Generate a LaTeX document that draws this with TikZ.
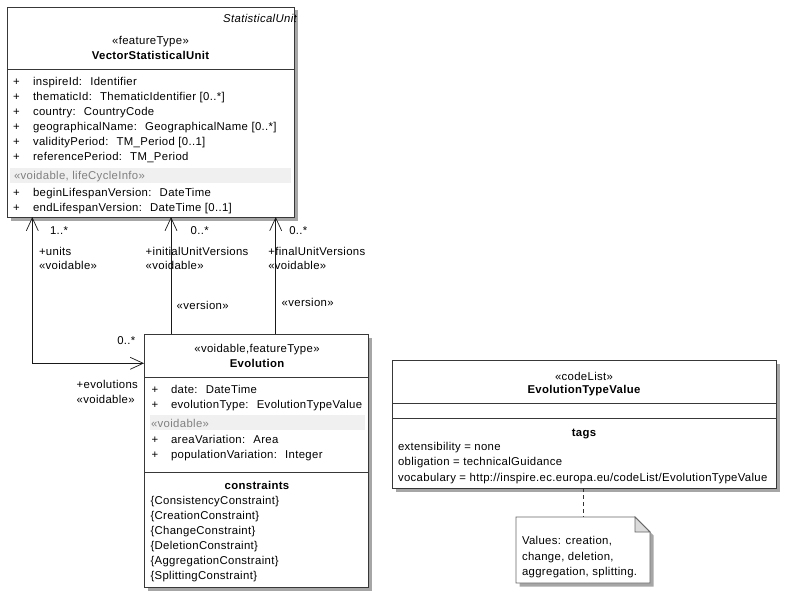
\documentclass[tikz,border=0pt]{standalone}
\usepackage{fontspec}
\setmainfont[LetterSpace=3]{Liberation Sans}
\usetikzlibrary{arrows.meta,shadows,calc}
\tikzset{
  umlbox/.style={draw=black!78, line width=0.8bp, fill=white, inner sep=0pt, outer sep=0pt, anchor=north west,
    drop shadow={shadow xshift=3.5bp, shadow yshift=-3.5bp, fill=black!35, opacity=1}},
  sepline/.style={draw=black!78, line width=0.8bp},
  band/.style={fill=black!6, draw=none},
  txt/.style={inner sep=0pt, outer sep=0pt, anchor=base west},
  ctxt/.style={inner sep=0pt, outer sep=0pt, anchor=base},
  graytxt/.style={txt, text=black!50},
  barb/.tip={Straight Barb[length=13bp,width=12bp,line width=0.7bp]},
  assoc/.style={draw=black!90, line width=0.7bp},
  notedash/.style={draw=black!80, line width=0.7bp, dash pattern=on 4bp off 3bp}
}
\begin{document}
\begin{tikzpicture}[x=1bp,y=-1bp,font=\fontsize{11.4}{14}\selectfont]
\useasboundingbox[fill=white] (0,0) rectangle (797,599);

% ---------- VectorStatisticalUnit ----------
\node[umlbox, minimum width=287bp, minimum height=210bp] (vsu) at (7,7) {};
\draw[sepline] ($(vsu.north west)+(0,62.5)$) -- ($(vsu.north east)+(0,62.5)$);
\fill[band] (10,168) rectangle (291,183);
\node[inner sep=0pt, anchor=base east, font=\fontsize{11.4}{14}\selectfont\itshape] (vsupkg) at (297,23) {StatisticalUnit};
\node[ctxt] (vsust) at (150.5,45) {«featureType»};
\node[ctxt, font=\fontsize{11.4}{14}\selectfont\bfseries] (vsuname) at (150.5,59.5) {VectorStatisticalUnit};
\foreach \yy/\tt [count=\i] in {86/{inspireId: \ Identifier},
  101/{thematicId: \ ThematicIdentifier [0..*]},
  116/{country: \ CountryCode},
  131/{geographicalName: \ GeographicalName [0..*]},
  146/{validityPeriod: \ TM\_Period [0..1]},
  161/{referencePeriod: \ TM\_Period},
  196.5/{beginLifespanVersion: \ DateTime},
  211.5/{endLifespanVersion: \ DateTime [0..1]}}{
  \node[txt] (vsup\i) at (13,\yy) {+};
  \node[txt] (vsua\i) at (33,\yy) {\tt};
}
\node[graytxt] (vsuband) at (14,180) {«voidable, lifeCycleInfo»};

% ---------- Evolution ----------
\node[umlbox, minimum width=224bp, minimum height=253bp] (evo) at (144,334) {};
\draw[sepline] ($(evo.north west)+(0,43)$) -- ($(evo.north east)+(0,43)$);
\draw[sepline] ($(evo.north west)+(0,138)$) -- ($(evo.north east)+(0,138)$);
\fill[band] (150,415) rectangle (365,430);
\node[ctxt] (evost) at (257,352) {«voidable,featureType»};
\node[ctxt, font=\fontsize{11.4}{14}\selectfont\bfseries] (evoname) at (257,367) {Evolution};
\foreach \yy/\tt [count=\i] in {393/{date: \ DateTime},
  408/{evolutionType: \ EvolutionTypeValue},
  443/{areaVariation: \ Area},
  458/{populationVariation: \ Integer}}{
  \node[txt] (evop\i) at (151.5,\yy) {+};
  \node[txt] (evoa\i) at (171,\yy) {\tt};
}
\node[graytxt] (evoband) at (151,427.5) {«voidable»};
\node[ctxt, font=\fontsize{11.4}{14}\selectfont\bfseries] (evocons) at (257,489) {constraints};
\foreach \yy/\tt [count=\i] in {504/{\{ConsistencyConstraint\}},
  519/{\{CreationConstraint\}},
  534/{\{ChangeConstraint\}},
  549/{\{DeletionConstraint\}},
  564/{\{AggregationConstraint\}},
  579/{\{SplittingConstraint\}}}{
  \node[txt] (evoc\i) at (150.5,\yy) {\tt};
}

% ---------- EvolutionTypeValue ----------
\node[umlbox, minimum width=384bp, minimum height=128bp] (etv) at (392,360) {};
\draw[sepline] ($(etv.north west)+(0,43)$) -- ($(etv.north east)+(0,43)$);
\draw[sepline] ($(etv.north west)+(0,58)$) -- ($(etv.north east)+(0,58)$);
\node[ctxt] (etvst) at (584,380) {«codeList»};
\node[ctxt, font=\fontsize{11.4}{14}\selectfont\bfseries] (etvname) at (584,393.5) {EvolutionTypeValue};
\node[ctxt, font=\fontsize{11.4}{14}\selectfont\bfseries] (etvtags) at (584,436) {tags};
\node[txt] (etvt1) at (398,450) {extensibility = none};
\node[txt] (etvt2) at (398,465.5) {obligation = technicalGuidance};
\node[txt] (etvt3) at (398,481) {vocabulary = http://inspire.ec.europa.eu/codeList/EvolutionTypeValue};

% ---------- Note ----------
\node[inner sep=0pt, outer sep=0pt, minimum width=134bp, minimum height=66bp, anchor=north west] (note) at (516,517) {};
\fill[black!35] ($(note.north east)+(3.5,18.5)$) -- ($(note.south east)+(3.5,3.5)$) -- ($(note.south west)+(3.5,3.5)$) -- ($(note.south west)+(3.5,0)$) -- ($(note.south east)+(0,0)$) -- ($(note.north east)+(0,15)$) -- cycle;
\draw[draw=black!60, fill=white, line width=0.8bp] (note.north west) -- ($(note.north east)+(-15,0)$) -- ($(note.north east)+(0,15)$) -- (note.south east) -- (note.south west) -- cycle;
\draw[draw=black!60, fill=black!14, line width=0.8bp] ($(note.north east)+(-15,0)$) -- ($(note.north east)+(-15,15)$) -- ($(note.north east)+(0,15)$) -- cycle;
\node[txt] (notet1) at (522,544) {Values: creation,};
\node[txt] (notet2) at (522,560) {change, deletion,};
\node[txt] (notet3) at (522,575) {aggregation, splitting.};
\draw[notedash] ($(etv.south west)+(191,0)$) -- ($(note.north west)+(67,0)$);

% ---------- Connectors ----------
\coordinate (uTop) at ($(vsu.south west)+(25.3,0)$);
\coordinate (uEnd) at ($(evo.north west)+(0,29.3)$);
\draw[assoc, barb-barb] (uTop) |- (uEnd);
\coordinate (iBot) at ($(evo.north west)+(27,0)$);
\draw[assoc, -barb] (iBot) -- (iBot |- vsu.south);
\coordinate (fBot) at ($(evo.north west)+(131.7,0)$);
\draw[assoc, -barb] (fBot) -- (fBot |- vsu.south);

% connector labels
\node[txt] (l1) at (50,235) {1..*};
\node[txt] (l2) at (39,255) {+units};
\node[txt] (l3) at (39,269) {«voidable»};
\node[txt] (l4) at (190.7,235) {0..*};
\node[txt] (l5) at (145.7,255) {+initialUnitVersions};
\node[txt] (l6) at (145.7,269) {«voidable»};
\node[txt] (l7) at (176.7,309) {«version»};
\node[txt] (l8) at (289.3,235) {0..*};
\node[txt] (l9) at (268.3,255) {+finalUnitVersions};
\node[txt] (l10) at (268.3,269) {«voidable»};
\node[txt] (l11) at (281.7,306.7) {«version»};
\node[txt] (l12) at (117.3,344) {0..*};
\node[txt] (l13) at (76.7,388) {+evolutions};
\node[txt] (l14) at (76.7,403) {«voidable»};
\end{tikzpicture}
\end{document}
